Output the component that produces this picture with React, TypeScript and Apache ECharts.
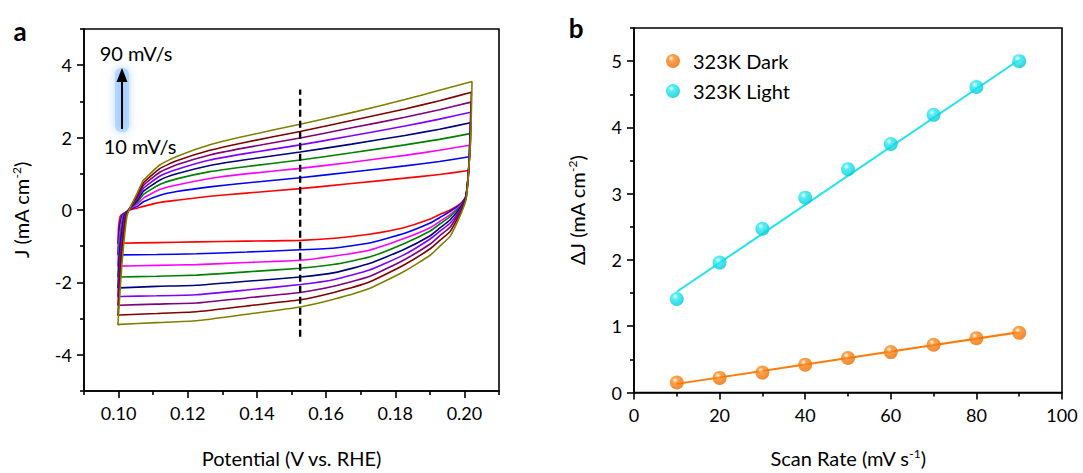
import React, { useEffect, useRef } from "react";
import * as echarts from "echarts";

// ---------- Panel a: CV curves (10 ... 90 mV/s) ----------
const RATES = ["10 mV/s", "20 mV/s", "30 mV/s", "40 mV/s", "50 mV/s", "60 mV/s", "70 mV/s", "80 mV/s", "90 mV/s"];
const CV_COLORS = ["#FF0000", "#0000FF", "#FF00FF", "#008000", "#000080", "#8000FF", "#800080", "#800000", "#808000"];

// left vertical of the loop
const LEFT_V = 0.0998;
const LEFT_J = [-0.93, -1.25, -1.56, -1.86, -2.16, -2.4, -2.64, -2.92, -3.18];
const LEFT_MID_V = [0.1, 0.1001, 0.1002, 0.1003, 0.1004, 0.1005, 0.1006, 0.1007, 0.1009];
const LEFT_MID_J = [-0.46, -0.62, -0.78, -0.93, -1.07, -1.2, -1.33, -1.45, -1.58];
const KNEE_V = [0.1006, 0.101, 0.1013, 0.1015, 0.1017, 0.1019, 0.1021, 0.1022, 0.1024];
const KNEE_J = [-0.15, -0.15, -0.15, -0.15, -0.15, -0.15, -0.15, -0.15, -0.18];

// forward (upper) branch
const UP_V = [0.1036, 0.1054, 0.1072, 0.112, 0.1168, 0.1264, 0.1361, 0.1525, 0.1674, 0.1828, 0.1928];
const UP_J = [
  [0.01, 0.05, 0.1, 0.21, 0.27, 0.38, 0.46, 0.59, 0.73, 0.88, 0.98],
  [0.03, 0.1, 0.23, 0.41, 0.51, 0.64, 0.74, 0.89, 1.05, 1.22, 1.34],
  [0.05, 0.16, 0.33, 0.57, 0.69, 0.87, 0.99, 1.15, 1.32, 1.51, 1.65],
  [0.07, 0.21, 0.43, 0.71, 0.86, 1.06, 1.19, 1.38, 1.58, 1.8, 1.95],
  [0.08, 0.26, 0.52, 0.83, 1.0, 1.23, 1.38, 1.6, 1.82, 2.06, 2.23],
  [0.09, 0.31, 0.6, 0.94, 1.12, 1.38, 1.55, 1.8, 2.05, 2.32, 2.51],
  [0.1, 0.36, 0.68, 1.05, 1.25, 1.52, 1.71, 1.99, 2.27, 2.56, 2.77],
  [0.11, 0.41, 0.75, 1.15, 1.36, 1.65, 1.86, 2.17, 2.47, 2.79, 3.02],
  [0.12, 0.47, 0.82, 1.25, 1.48, 1.8, 2.03, 2.37, 2.69, 3.05, 3.31],
];

// right vertical
const END_V = [0.2012, 0.2014, 0.2015, 0.2016, 0.2017, 0.2018, 0.2019, 0.202, 0.2022];
const END_J = [1.09, 1.47, 1.79, 2.11, 2.41, 2.7, 2.98, 3.25, 3.55];
const RMID_V = [0.201, 0.2011, 0.2012, 0.2013, 0.2014, 0.2015, 0.2016, 0.2017, 0.2018];
const RMID_J = [0.72, 0.91, 1.07, 1.23, 1.38, 1.52, 1.66, 1.8, 1.95];
const BEND_V = [0.2003, 0.2003, 0.2004, 0.2004, 0.2004, 0.2005, 0.2005, 0.2005, 0.2006];
const BEND_J = [0.35, 0.35, 0.35, 0.35, 0.35, 0.35, 0.35, 0.35, 0.35];

// reverse (lower) branch
const LOW_V = [0.1991, 0.1959, 0.193, 0.1901, 0.1825, 0.1725, 0.1625, 0.1525, 0.137, 0.1225, 0.111, 0.1003];
const LOW_J = [
  [0.2, 0.0, -0.12, -0.25, -0.49, -0.67, -0.78, -0.84, -0.86, -0.88, -0.9, -0.92],
  [0.18, -0.04, -0.2, -0.36, -0.65, -0.91, -1.05, -1.1, -1.16, -1.21, -1.23, -1.24],
  [0.16, -0.13, -0.31, -0.49, -0.79, -1.11, -1.27, -1.39, -1.45, -1.51, -1.53, -1.55],
  [0.13, -0.18, -0.38, -0.58, -0.93, -1.3, -1.5, -1.61, -1.71, -1.8, -1.83, -1.85],
  [0.1, -0.27, -0.49, -0.71, -1.09, -1.48, -1.73, -1.85, -1.97, -2.08, -2.11, -2.15],
  [0.06, -0.36, -0.58, -0.8, -1.24, -1.66, -1.92, -2.06, -2.21, -2.34, -2.37, -2.39],
  [0.02, -0.47, -0.7, -0.94, -1.38, -1.84, -2.1, -2.28, -2.43, -2.57, -2.6, -2.63],
  [-0.03, -0.59, -0.83, -1.07, -1.52, -1.99, -2.27, -2.48, -2.65, -2.81, -2.86, -2.9],
  [-0.08, -0.72, -0.99, -1.25, -1.7, -2.17, -2.46, -2.68, -2.88, -3.06, -3.11, -3.16],
];

const DASH_V = [0.1525, 0.1525];
const DASH_J = [-3.5, 3.33];

const A_X_LABELS = [0.1, 0.12, 0.14, 0.16, 0.18, 0.2];
const A_X_MINOR = [0.09, 0.11, 0.13, 0.15, 0.17, 0.19, 0.21];
const A_Y_LABELS = [-4, -2, 0, 2, 4];
const A_Y_MINOR = [-5, -3, -1, 1, 3, 5];

// ---------- Panel b: delta J vs scan rate ----------
const SCAN_RATE = [10, 20, 30, 40, 50, 60, 70, 80, 90];
const DARK = [0.15, 0.22, 0.3, 0.42, 0.52, 0.61, 0.72, 0.82, 0.9];
const LIGHT = [1.41, 1.96, 2.47, 2.94, 3.37, 3.75, 4.19, 4.61, 5.0];
const DARK_FIT_X = [10, 90];
const DARK_FIT_Y = [0.13, 0.91];
const LIGHT_FIT_X = [10, 90];
const LIGHT_FIT_Y = [1.52, 5.02];

const B_X_LABELS = [0, 20, 40, 60, 80, 100];
const B_X_MINOR = [10, 30, 50, 70, 90];
const B_Y_LABELS = [0, 1, 2, 3, 4, 5];
const B_Y_MINOR = [0.5, 1.5, 2.5, 3.5, 4.5, 5.5];

const FONT = "Lato, 'Open Sans', sans-serif";
const INK = "#000";

function cvPoints(i: number) {
  const pts: number[][] = [];
  pts.push([LEFT_V, LEFT_J[i]]);
  pts.push([LEFT_MID_V[i], LEFT_MID_J[i]]);
  pts.push([KNEE_V[i], KNEE_J[i]]);
  UP_V.forEach((v, k) => pts.push([v, UP_J[i][k]]));
  pts.push([END_V[i], END_J[i]]);
  pts.push([RMID_V[i], RMID_J[i]]);
  pts.push([BEND_V[i], BEND_J[i]]);
  LOW_V.forEach((v, k) => pts.push([v, LOW_J[i][k]]));
  pts.push([LEFT_V, LEFT_J[i]]);
  return pts;
}

function sphere(base: string, dark: string) {
  return new echarts.graphic.RadialGradient(0.38, 0.32, 0.72, [
    { offset: 0, color: "#ffffff" },
    { offset: 0.28, color: base },
    { offset: 1, color: dark },
  ]);
}

const axisLineStyle = { color: "#000", width: 1.6 };
const labelStyle = { color: INK, fontSize: 18, fontFamily: FONT };
const nameStyle = () => ({
  color: INK,
  fontSize: 20,
  fontFamily: FONT,
  rich: {
    n: { fontSize: 20, fontFamily: FONT, color: INK },
    sup: { fontSize: 12, fontFamily: FONT, color: INK, verticalAlign: "top", padding: [0, 0, 9, 0] },
  },
});

export default function App() {
  const ref = useRef<HTMLDivElement>(null);
  useEffect(() => {
    if (!ref.current) return;
    const chart = echarts.init(ref.current, null, { renderer: "svg" });

    const cvSeries = RATES.map((name, i) => ({
      name,
      type: "line",
      xAxisIndex: 0,
      yAxisIndex: 0,
      data: cvPoints(i),
      symbol: "none",
      smooth: 0.15,
      lineStyle: { color: CV_COLORS[i], width: 1.6 },
      z: 3,
    }));

    const option: any = {
      animation: false,
      backgroundColor: "#fff",
      grid: [
        { left: 84, top: 29, width: 415, height: 369, show: true, borderColor: "#000", borderWidth: 1.6, backgroundColor: "transparent" },
        { left: 634, top: 28, width: 428, height: 370, show: true, borderColor: "#000", borderWidth: 1.6, backgroundColor: "transparent" },
      ],
      xAxis: [
        {
          type: "value", gridIndex: 0, min: 0.09, max: 0.21, interval: 0.01,
          axisLine: { show: true, onZero: false, lineStyle: axisLineStyle },
          axisTick: { show: true, customValues: A_X_LABELS, length: 7, lineStyle: axisLineStyle },
          axisLabel: { customValues: A_X_LABELS, formatter: (v: number) => v.toFixed(2), margin: 13, ...labelStyle },
          splitLine: { show: false },
          name: "Potential (V vs. RHE)", nameLocation: "middle", nameGap: 57,
          nameTextStyle: nameStyle(),
        },
        {
          type: "value", gridIndex: 0, min: 0.09, max: 0.21, position: "bottom",
          axisLine: { show: false, onZero: false },
          axisTick: { show: true, customValues: A_X_MINOR, length: 4, lineStyle: axisLineStyle },
          axisLabel: { show: false },
          splitLine: { show: false },
        },
        {
          type: "value", gridIndex: 1, min: 0, max: 100, interval: 10,
          axisLine: { show: true, onZero: false, lineStyle: axisLineStyle },
          axisTick: { show: true, customValues: B_X_LABELS, length: 7, lineStyle: axisLineStyle },
          axisLabel: { customValues: B_X_LABELS, margin: 13, ...labelStyle },
          splitLine: { show: false },
          name: "{n|Scan Rate (mV s}{sup|-1}{n|)}", nameLocation: "middle", nameGap: 55,
          nameTextStyle: nameStyle(),
        },
        {
          type: "value", gridIndex: 1, min: 0, max: 100, position: "bottom",
          axisLine: { show: false, onZero: false },
          axisTick: { show: true, customValues: B_X_MINOR, length: 4, lineStyle: axisLineStyle },
          axisLabel: { show: false },
          splitLine: { show: false },
        },
      ],
      yAxis: [
        {
          type: "value", gridIndex: 0, min: -5, max: 5, interval: 1,
          axisLine: { show: true, onZero: false, lineStyle: axisLineStyle },
          axisTick: { show: true, customValues: A_Y_LABELS, length: 7, lineStyle: axisLineStyle },
          axisLabel: { customValues: A_Y_LABELS, margin: 12, ...labelStyle },
          splitLine: { show: false },
          name: "{n|J (mA cm}{sup|-2}{n|)}", nameLocation: "middle", nameGap: 53, nameRotate: 90,
          nameTextStyle: nameStyle(),
        },
        {
          type: "value", gridIndex: 0, min: -5, max: 5, position: "left",
          axisLine: { show: false, onZero: false },
          axisTick: { show: true, customValues: A_Y_MINOR, length: 4, lineStyle: axisLineStyle },
          axisLabel: { show: false },
          splitLine: { show: false },
        },
        {
          type: "value", gridIndex: 1, min: 0, max: 5.5, interval: 0.5,
          axisLine: { show: true, onZero: false, lineStyle: axisLineStyle },
          axisTick: { show: true, customValues: B_Y_LABELS, length: 7, lineStyle: axisLineStyle },
          axisLabel: { customValues: B_Y_LABELS, margin: 12, ...labelStyle },
          splitLine: { show: false },
          name: "{n|\u0394J (mA cm}{sup|-2}{n|)}", nameLocation: "middle", nameGap: 47, nameRotate: 90,
          nameTextStyle: nameStyle(),
        },
        {
          type: "value", gridIndex: 1, min: 0, max: 5.5, position: "left",
          axisLine: { show: false, onZero: false },
          axisTick: { show: true, customValues: B_Y_MINOR, length: 4, lineStyle: axisLineStyle },
          axisLabel: { show: false },
          splitLine: { show: false },
        },
      ],
      legend: {
        data: ["323K Dark", "323K Light"],
        orient: "vertical",
        left: 661,
        top: 46,
        itemWidth: 30,
        itemHeight: 14,
        itemGap: 10,
        textStyle: { fontSize: 20, fontFamily: FONT, color: INK },
      },
      series: [
        ...cvSeries,
        {
          name: "dash",
          type: "line",
          xAxisIndex: 0,
          yAxisIndex: 0,
          data: DASH_V.map((v, k) => [v, DASH_J[k]]),
          symbol: "none",
          lineStyle: { color: "#000", width: 2.4, type: [7, 4] },
          z: 5,
        },
        {
          name: "darkFit",
          type: "line",
          xAxisIndex: 2,
          yAxisIndex: 2,
          data: DARK_FIT_X.map((x, k) => [x, DARK_FIT_Y[k]]),
          symbol: "none",
          lineStyle: { color: "#FF7B0A", width: 2 },
          z: 2,
        },
        {
          name: "lightFit",
          type: "line",
          xAxisIndex: 2,
          yAxisIndex: 2,
          data: LIGHT_FIT_X.map((x, k) => [x, LIGHT_FIT_Y[k]]),
          symbol: "none",
          lineStyle: { color: "#1EE4EE", width: 2 },
          z: 2,
        },
        {
          name: "323K Dark",
          type: "scatter",
          xAxisIndex: 2,
          yAxisIndex: 2,
          data: SCAN_RATE.map((x, k) => [x, DARK[k]]),
          symbol: "circle",
          symbolSize: 14,
          itemStyle: { color: sphere("#FF8A1C", "#E86A00") },
          z: 4,
        },
        {
          name: "323K Light",
          type: "scatter",
          xAxisIndex: 2,
          yAxisIndex: 2,
          data: SCAN_RATE.map((x, k) => [x, LIGHT[k]]),
          symbol: "circle",
          symbolSize: 14,
          itemStyle: { color: sphere("#2AEAF2", "#00C6D6") },
          z: 4,
        },
      ],
      graphic: [
        { type: "text", x: 20, y: 31, style: { text: "a", font: `bold 26px ${FONT}`, fill: "#000", textAlign: "center", textVerticalAlign: "middle" } },
        { type: "text", x: 576, y: 28, style: { text: "b", font: `bold 26px ${FONT}`, fill: "#000", textAlign: "center", textVerticalAlign: "middle" } },
        { type: "text", x: 136, y: 53, style: { text: "90 mV/s", font: `20px ${FONT}`, fill: INK, textAlign: "center", textVerticalAlign: "middle" } },
        { type: "text", x: 140, y: 146, style: { text: "10 mV/s", font: `20px ${FONT}`, fill: INK, textAlign: "center", textVerticalAlign: "middle" } },
        {
          type: "rect", shape: { x: 115, y: 68, width: 14, height: 64, r: 6 },
          style: { fill: "rgba(150,200,255,0.55)", shadowBlur: 8, shadowColor: "rgba(100,170,255,0.9)" },
        },
        { type: "line", shape: { x1: 122, y1: 129, x2: 122, y2: 78 }, style: { stroke: "#000", lineWidth: 2 } },
        { type: "polygon", shape: { points: [[116.5, 82], [127.5, 82], [122, 68]] }, style: { fill: "#000" } },
      ],
    };
    chart.setOption(option);
    return () => chart.dispose();
  }, []);
  return <div ref={ref} style={{ position: "absolute", left: 0, top: 0, width: 1083, height: 473, background: "#fff" }} />;
}
